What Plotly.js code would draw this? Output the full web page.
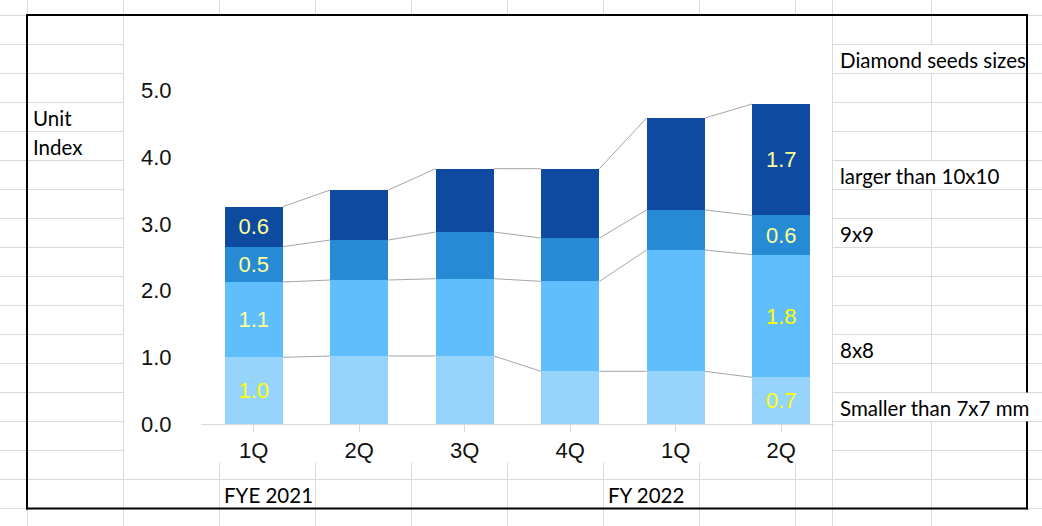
<!DOCTYPE html>
<html>
<head>
<meta charset="utf-8">
<script src="https://cdn.plot.ly/plotly-3.0.1.min.js"></script>
<style>
  html, body { margin: 0; padding: 0; background: #ffffff; }
  #chart { width: 1042px; height: 526px; }
</style>
</head>
<body>
<div id="chart"></div>
<script>
// ---- data ----
const quarters = ['1Q', '2Q', '3Q', '4Q', '1Q', '2Q'];
const fiscalYears = ['FYE 2021', 'FY 2022'];
const seriesNames = ['Smaller than 7x7 mm', '8x8', '9x9', 'larger than 10x10'];
const sizeSmall = [1.00, 1.02, 1.02, 0.79, 0.79, 0.70];
const size8x8   = [1.13, 1.14, 1.16, 1.35, 1.82, 1.84];
const size9x9   = [0.53, 0.60, 0.70, 0.65, 0.60, 0.59];
const size10x10 = [0.60, 0.75, 0.95, 1.04, 1.38, 1.67];
const labelSmall = ['1.0', '', '', '', '', '0.7'];
const label8x8   = ['1.1', '', '', '', '', '1.8'];
const label9x9   = ['0.5', '', '', '', '', '0.6'];
const label10x10 = ['0.6', '', '', '', '', '1.7'];
const yTickValues = [0, 1, 2, 3, 4, 5];
const legendTitle = 'Diamond seeds sizes';
const unitLines = ['Unit', 'Index'];

// ---- geometry / styles ----
const W = 1042, H = 526;
const M = { l: 201, r: 208, t: 71, b: 102 };
const PW = W - M.l - M.r, PH = H - M.t - M.b;
const px = v => (v - M.l) / PW;
const py = v => (H - M.b - v) / PH;
const unitPx = (H - M.b - 90.7) / 5;   // pixels per index unit
const barW = 0.553;
const colors = ['#97D4FC', '#5FBEFB', '#268AD5', '#0E4BA0'];
const BRIGHT = '#FFFF00', PALE = '#FFFF99';
const chartFont = 'Liberation Sans, Arial, sans-serif';
const cellFont = 'Lato, Carlito, Calibri, sans-serif';

const xs = quarters.map((_, i) => i);
const series = [sizeSmall, size8x8, size9x9, size10x10];
const labels = [labelSmall, label8x8, label9x9, label10x10];
const labelColors = [
  [BRIGHT, BRIGHT, BRIGHT, BRIGHT, BRIGHT, BRIGHT],
  [PALE, PALE, PALE, PALE, PALE, BRIGHT],
  [PALE, PALE, PALE, PALE, PALE, PALE],
  [PALE, PALE, PALE, PALE, PALE, PALE]
];

const traces = [];
series.forEach((vals, k) => {
  traces.push({
    type: 'bar', x: xs, y: vals, width: barW, name: seriesNames[k],
    marker: { color: colors[k], line: { width: 0 } },
    text: labels[k], textposition: 'inside', insidetextanchor: 'middle',
    constraintext: 'none', cliponaxis: false,
    textfont: { family: chartFont, size: 22, color: labelColors[k] },
    hoverinfo: 'skip', showlegend: false
  });
});

// series lines joining the segment tops of neighbouring bars
const cum = [];
series.forEach((vals, k) => {
  cum.push(vals.map((v, i) => v + (k > 0 ? cum[k - 1][i] : 0)));
});
cum.forEach(level => {
  const lx = [], ly = [];
  for (let i = 0; i < level.length - 1; i++) {
    lx.push(xs[i] + barW / 2, xs[i + 1] - barW / 2, null);
    ly.push(level[i], level[i + 1], null);
  }
  traces.push({
    type: 'scatter', mode: 'lines', x: lx, y: ly,
    line: { color: '#A6A6A6', width: 1 }, hoverinfo: 'skip', showlegend: false
  });
});

// ---- spreadsheet background ----
const shapes = [];
const GRID = '#DADADA';
function vline(x, y0, y1, color, w) {
  shapes.push({ type: 'line', xref: 'paper', yref: 'paper', layer: 'below',
    x0: px(x), x1: px(x), y0: py(y0), y1: py(y1), line: { color: color, width: w } });
}
function hline(y, x0, x1, color, w) {
  shapes.push({ type: 'line', xref: 'paper', yref: 'paper', layer: 'below',
    x0: px(x0), x1: px(x1), y0: py(y), y1: py(y), line: { color: color, width: w } });
}
function rect(x0, y0, x1, y1, fill) {
  shapes.push({ type: 'rect', xref: 'paper', yref: 'paper', layer: 'below',
    x0: px(x0), x1: px(x1), y0: py(y0), y1: py(y1), fillcolor: fill, line: { width: 0 } });
}
const colLines = [];
for (let k = 0; k <= 8; k++) colLines.push(27.5 + 96 * k);
colLines.push(832.5, 931.5);
colLines.forEach(x => vline(x, 0, H, GRID, 1));
for (let y = 15.5; y < H; y += 29) hline(y, 0, W, GRID, 1);
// chart object area
rect(124, 15.5, 832, 462.5, '#FFFFFF');
// overflowing cell texts hide grid lines
rect(833, 45, 1026, 73, '#FFFFFF');
rect(833, 161, 1026, 189, '#FFFFFF');
rect(833, 393, 1042, 421, '#FFFFFF');
// black outline
hline(15, 26, 1028, '#000000', 2);
hline(508.5, 26, 1028, '#000000', 2);
vline(27, 14, 509.5, '#000000', 2);
vline(1027, 14, 392.5, '#000000', 2);
vline(1027, 421.5, 509.5, '#000000', 2);

// ---- cell texts ----
const annotations = [];
function cellText(txt, x, y) {
  annotations.push({ text: txt, xref: 'paper', yref: 'paper', x: px(x), y: py(y),
    xanchor: 'left', yanchor: 'middle', showarrow: false,
    font: { family: cellFont, size: 20.5, color: '#000000' } });
}
cellText(unitLines[0], 31, 118);
cellText(unitLines[1], 31, 147);
cellText(legendTitle, 838, 60);
cellText(seriesNames[3], 838, 176);
cellText(seriesNames[2], 838, 234);
cellText(seriesNames[1], 838, 350);
cellText(seriesNames[0], 838, 408);
cellText(fiscalYears[0], 222, 495);
cellText(fiscalYears[1], 606, 495);

const layout = {
  width: W, height: H, margin: M,
  paper_bgcolor: '#FFFFFF', plot_bgcolor: 'rgba(0,0,0,0)',
  barmode: 'stack', showlegend: false,
  font: { family: chartFont, color: '#111111' },
  xaxis: {
    range: [-0.5, 5.5], tickvals: xs, ticktext: quarters, tickson: 'boundaries',
    ticks: 'outside', ticklen: 7, tickcolor: '#D9D9D9', tickwidth: 1,
    showline: true, linecolor: '#D9D9D9', linewidth: 1,
    showgrid: false, zeroline: false, fixedrange: true,
    tickfont: { family: chartFont, size: 22, color: '#111111' }
  },
  yaxis: {
    range: [0, PH / unitPx],
    tickvals: yTickValues, tickformat: '.1f',
    ticks: 'outside', ticklen: 24, tickcolor: 'rgba(0,0,0,0)',
    showline: false, showgrid: false, zeroline: false, fixedrange: true,
    tickfont: { family: chartFont, size: 22, color: '#111111' }
  },
  shapes: shapes, annotations: annotations
};

Plotly.newPlot('chart', traces, layout, { displayModeBar: false, staticPlot: true });
</script>
</body>
</html>
